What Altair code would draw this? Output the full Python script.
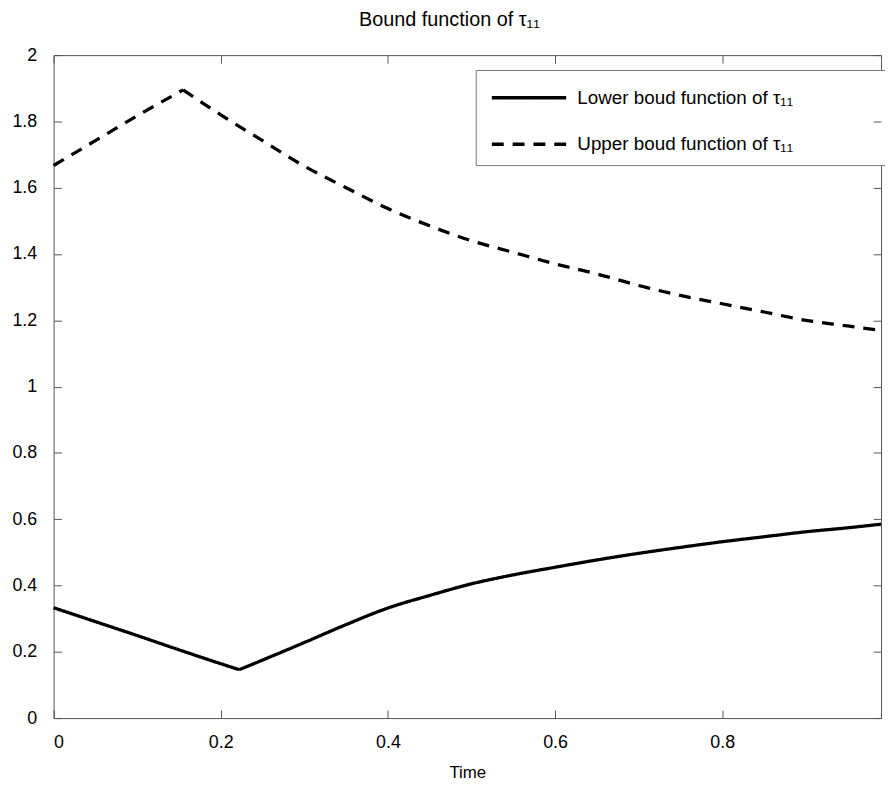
import altair as alt
import pandas as pd

t_upper = [0.0, 0.05, 0.10, 0.155, 0.20, 0.25, 0.30, 0.35, 0.40, 0.45, 0.50, 0.55,
           0.60, 0.65, 0.70, 0.75, 0.80, 0.85, 0.90, 0.95, 0.99]
upper = [1.667, 1.742, 1.817, 1.895, 1.820, 1.742, 1.665, 1.600, 1.537, 1.485, 1.440,
         1.405, 1.370, 1.340, 1.305, 1.275, 1.250, 1.225, 1.200, 1.183, 1.169]
upper_kink = 3

t_lower = [0.0, 0.05, 0.10, 0.15, 0.20, 0.222, 0.25, 0.30, 0.35, 0.40, 0.45, 0.50,
           0.55, 0.60, 0.65, 0.70, 0.75, 0.80, 0.85, 0.90, 0.95, 0.99]
lower = [0.333, 0.291, 0.249, 0.206, 0.164, 0.146, 0.175, 0.228, 0.282, 0.332, 0.370,
         0.405, 0.432, 0.455, 0.477, 0.497, 0.515, 0.532, 0.547, 0.562, 0.574, 0.585]
lower_kink = 5

series = ["Lower boud function of  τ₁₁", "Upper boud function of  τ₁₁"]
x_ticks = [0, 0.2, 0.4, 0.6, 0.8]
y_ticks = [0, 0.2, 0.4, 0.6, 0.8, 1, 1.2, 1.4, 1.6, 1.8, 2]

rows = []
def add(ts, vs, kink, name):
    for i, (t, v) in enumerate(zip(ts, vs)):
        if i <= kink:
            rows.append({"t": t, "v": v, "s": name, "seg": name + "a", "o": i})
        if i >= kink:
            rows.append({"t": t, "v": v, "s": name, "seg": name + "b", "o": i})
add(t_lower, lower, lower_kink, series[0])
add(t_upper, upper, upper_kink, series[1])
df = pd.DataFrame(rows)

W, H = 835, 669
FONT = "Liberation Sans"
TICK = 8
AX = "#555555"

xscale = alt.Scale(domain=[0, 0.99], nice=False, zero=False)
yscale = alt.Scale(domain=[0, 2], nice=False)

legend = alt.Legend(title=None, orient="none", legendX=426, legendY=15,
                    symbolType="M-2.5,0H2.5M22.9,0", symbolSize=900,
                    symbolStrokeWidth=3.5, symbolStrokeColor="black",
                    symbolOffset=25.75,
                    labelFont=FONT, labelFontSize=19, labelColor="black",
                    labelOffset=31.75, rowPadding=20, padding=11,
                    strokeColor="#777777", fillColor="white",
                    cornerRadius=0, labelLimit=600)

dash = alt.StrokeDash("s:N", scale=alt.Scale(domain=series, range=[[1, 0], [12, 9]]),
                      legend=legend)

base = alt.Chart(df).mark_line(color="black", strokeWidth=3.3, interpolate="monotone")

tick_style = dict(domain=False, grid=False, ticks=True, tickSize=TICK, tickColor=AX,
                  tickWidth=1, tickOpacity=1, offset=-TICK, zindex=2)

lower_layer = base.transform_filter(alt.datum.s == series[0]).encode(
    x=alt.X("t:Q", title="Time", scale=xscale,
            axis=alt.Axis(values=x_ticks, format="~g", orient="bottom",
                          labelFont=FONT, labelFontSize=18, labelColor="black",
                          labelPadding=16, titleFont=FONT, titleFontSize=17,
                          titleFontWeight="normal", titleColor="black", titlePadding=13,
                          **tick_style)),
    y=alt.Y("v:Q", title=None, scale=yscale,
            axis=alt.Axis(values=y_ticks, format="~g", orient="left",
                          labelFont=FONT, labelFontSize=18, labelColor="black",
                          labelPadding=17, **tick_style)),
    strokeDash=dash, detail="seg:N", order="o:Q",
)

upper_layer = base.transform_filter(alt.datum.s == series[1]).encode(
    x=alt.X("t:Q", title=None, scale=xscale,
            axis=alt.Axis(values=x_ticks, orient="top", labels=False, **tick_style)),
    y=alt.Y("v:Q", title=None, scale=yscale,
            axis=alt.Axis(values=y_ticks, orient="right", labels=False, **tick_style)),
    strokeDash=dash, detail="seg:N", order="o:Q",
)

chart = alt.layer(lower_layer, upper_layer).resolve_axis(
    x="independent", y="independent"
).properties(
    width=W, height=H,
    title=alt.TitleParams("Bound function of  τ₁₁", font=FONT, fontSize=20,
                          fontWeight="normal", color="black", anchor="middle",
                          offset=16, dx=-18),
    autosize=alt.AutoSizeParams(type="none"),
    padding={"left": 46, "top": 44, "right": 4, "bottom": 66},
).configure_view(stroke=AX, strokeWidth=1)

chart.save("out.html", embed_options={"renderer": "svg", "actions": False})
